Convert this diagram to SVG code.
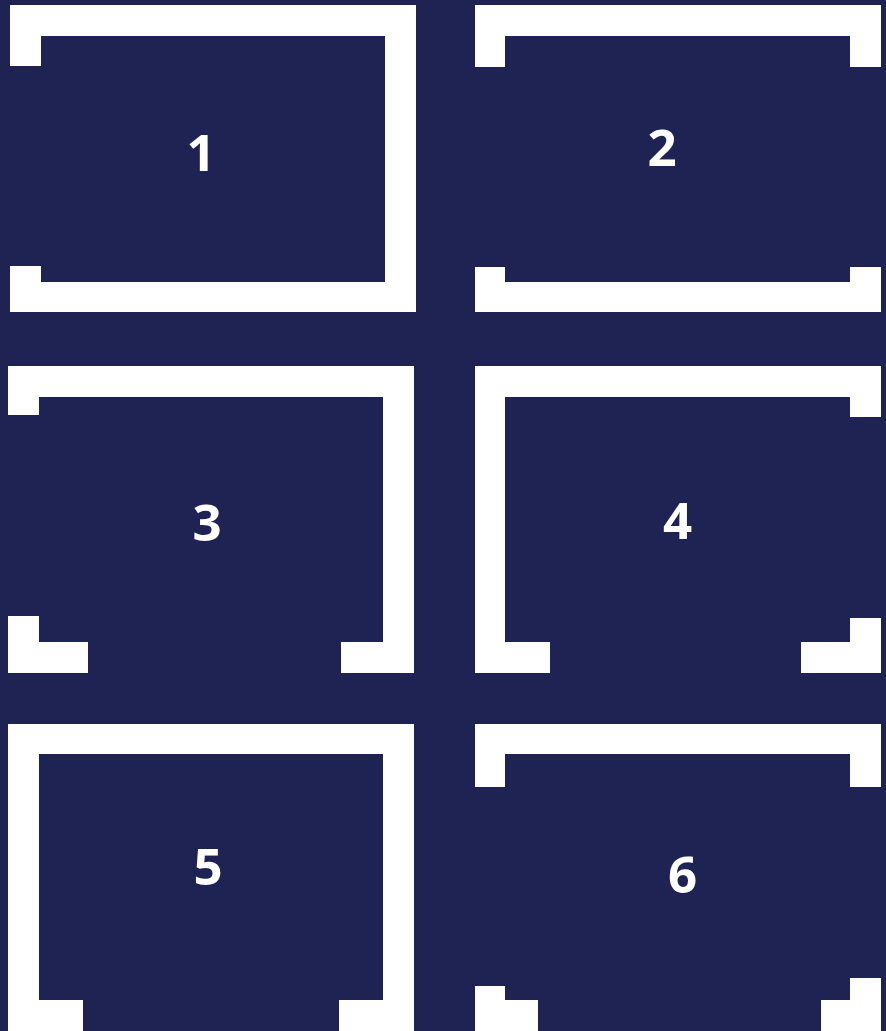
<svg xmlns="http://www.w3.org/2000/svg" width="886" height="1031" viewBox="0 0 886 1031">
<style>
.bg{fill:#1f2353}
.w{fill:#ffffff}
.lbl{font-family:"Open Sans","Noto Sans","Liberation Sans",sans-serif;font-weight:700;font-size:51px;fill:#ffffff;text-anchor:middle}
</style>
<rect class="bg" x="0" y="0" width="886" height="1031"/>
<g id="node1">
<path class="w" d="M10,5H416V312H10V266H41V282H385V36H41V66H10Z"/>
<text class="lbl" x="201" y="171">1</text>
</g>
<g id="node2">
<path class="w" d="M475,5H881V67H850V36H505V67H475Z"/>
<path class="w" d="M475,267H505V282H850V267H881V312H475Z"/>
<text class="lbl" x="662" y="166">2</text>
</g>
<g id="node3">
<path class="w" d="M8,366H414V673H341V642H383V397H39V415H8Z"/>
<path class="w" d="M8,616H39V642H88V673H8Z"/>
<text class="lbl" x="207" y="541">3</text>
</g>
<g id="node4">
<path class="w" d="M475,366H881V417H850V397H505V642H550V673H475Z"/>
<path class="w" d="M850,618H881V673H801V642H850Z"/>
<text class="lbl" x="677.5" y="539">4</text>
</g>
<g id="node5">
<path class="w" d="M8,724H414V1031H339V1000H383V754H39V1000H83V1031H8Z"/>
<text class="lbl" x="208" y="885">5</text>
</g>
<g id="node6">
<path class="w" d="M475,724H881V787H850V754H505V787H475Z"/>
<path class="w" d="M475,986H505V1000H538V1031H475Z"/>
<path class="w" d="M850,978H881V1031H821V1000H850Z"/>
<text class="lbl" x="682.5" y="893">6</text>
</g>
<g id="connectors"></g>
</svg>
